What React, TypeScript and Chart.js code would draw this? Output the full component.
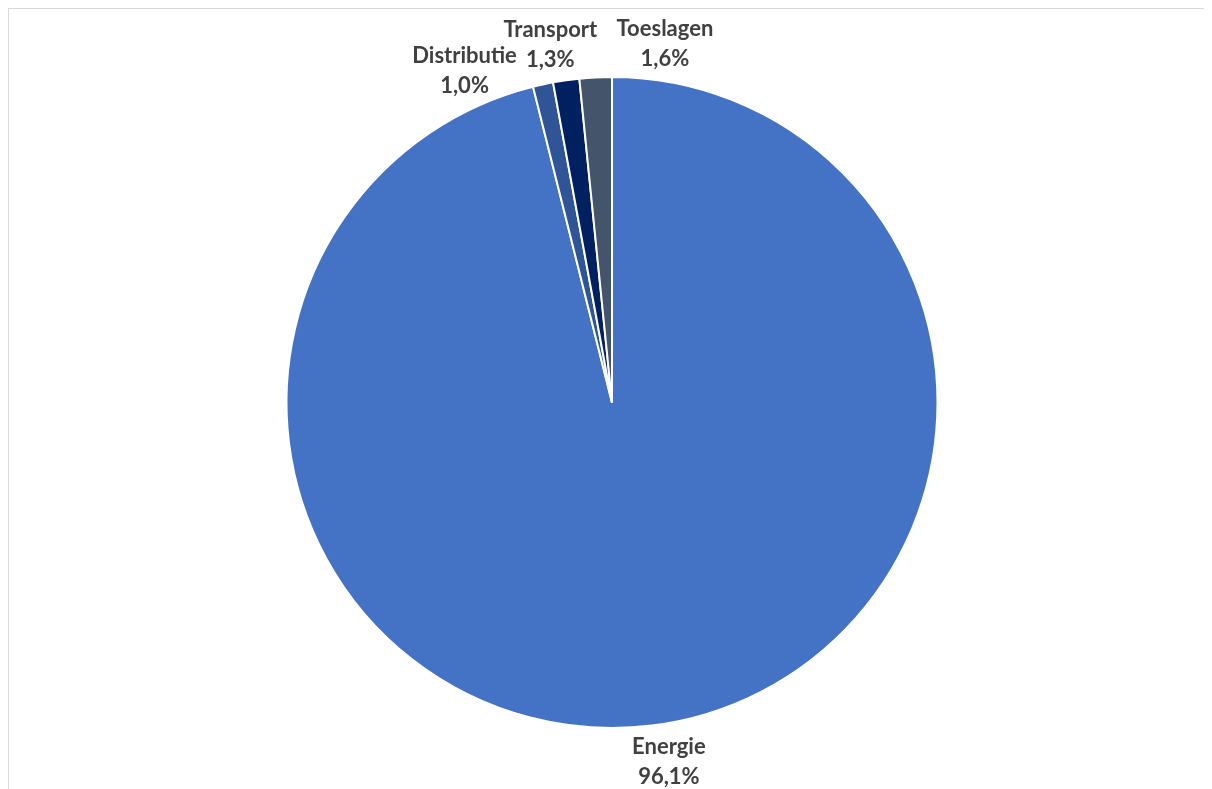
import React, { useEffect, useRef } from "react";
import { Chart, registerables } from "chart.js";

Chart.register(...registerables);

const categories = ["Energie", "Distributie", "Transport", "Toeslagen"];
const values = [96.1, 1.0, 1.3, 1.6];
const valueLabels = ["96,1%", "1,0%", "1,3%", "1,6%"];
const colors = ["#4472C4", "#2F5597", "#002060", "#44546A"];
// label placement angle (degrees clockwise from 12 o'clock), as Excel shifted them
const labelAngles = [171, -24, -9.8, 8.4];
const labelGaps = [38, 37, 37, 37];

const labelPlugin = {
  id: "pieLabels",
  afterDatasetsDraw(chart: any) {
    const meta = chart.getDatasetMeta(0);
    const ctx = chart.ctx;
    ctx.save();
    ctx.font = "bold 22px Lato, 'Open Sans', sans-serif";
    ctx.fillStyle = "#404040";
    ctx.textAlign = "center";
    ctx.textBaseline = "middle";
    meta.data.forEach((arc: any, i: number) => {
      const cx = arc.x;
      const cy = arc.y;
      const r = arc.outerRadius + labelGaps[i];
      const a = (labelAngles[i] * Math.PI) / 180;
      const x = cx + r * Math.sin(a);
      const y = cy - r * Math.cos(a);
      ctx.fillText(categories[i], x, y - 15);
      ctx.fillText(valueLabels[i], x, y + 15);
    });
    ctx.restore();
  },
};

export default function App() {
  const ref = useRef<HTMLCanvasElement | null>(null);
  useEffect(() => {
    document.documentElement.style.overflow = "hidden";
    document.body.style.overflow = "hidden";
    if (!ref.current) return;
    const chart = new Chart(ref.current, {
      type: "pie",
      data: {
        labels: categories,
        datasets: [
          {
            data: values,
            backgroundColor: colors,
            borderColor: "#ffffff",
            borderWidth: 2,
          },
        ],
      },
      options: {
        animation: false,
        responsive: false,
        maintainAspectRatio: false,
        layout: { padding: { top: 67, bottom: 60, left: 0, right: 0 } },
        plugins: {
          legend: { display: false },
          tooltip: { enabled: false },
        },
      },
      plugins: [labelPlugin],
    });
    return () => chart.destroy();
  }, []);
  return (
    <div
      style={{
        width: 1204,
        height: 781,
        borderLeft: "1px solid #d9d9d9",
        borderTop: "1px solid #d9d9d9",
        boxSizing: "border-box",
        background: "#fff",
        overflow: "hidden",
      }}
    >
      <canvas ref={ref} width={1206} height={780} style={{ display: "block" }} />
    </div>
  );
}
